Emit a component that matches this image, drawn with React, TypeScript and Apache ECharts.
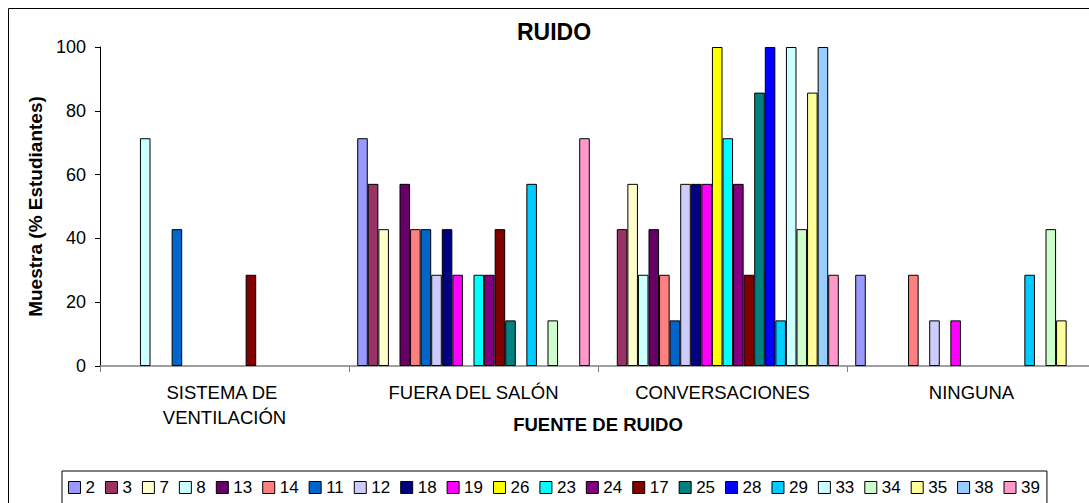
import React, { useEffect, useRef } from 'react';
import * as echarts from 'echarts';

const FONT = '"Liberation Sans", Arial, sans-serif';

const categories = ['SISTEMA DE VENTILACIÓN', 'FUERA DEL SALÓN', 'CONVERSACIONES', 'NINGUNA'];

const seriesNames = ['2', '3', '7', '8', '13', '14', '11', '12', '18', '19', '26', '23', '24', '17', '25', '28', '29', '33', '34', '35', '38', '39'];

const seriesColors = [
  '#9999FF', '#993366', '#FFFFCC', '#CCFFFF', '#660066', '#FF8080', '#0066CC', '#CCCCFF',
  '#000080', '#FF00FF', '#FFFF00', '#00FFFF', '#800080', '#800000', '#008080', '#0000FF',
  '#00CCFF', '#CCFFFF', '#CCFFCC', '#FFFF99', '#99CCFF', '#FF99CC',
];

// values per category, in the order of seriesNames (% of students)
const ventilacion = [0, 0, 0, 71.4, 0, 0, 42.9, 0, 0, 0, 0, 0, 0, 28.6, 0, 0, 0, 0, 0, 0, 0, 0];
const fueraSalon = [71.4, 57.1, 42.9, 0, 57.1, 42.9, 42.9, 28.6, 42.9, 28.6, 0, 28.6, 28.6, 42.9, 14.3, 0, 57.1, 0, 14.3, 0, 0, 71.4];
const conversaciones = [0, 42.9, 57.1, 28.6, 42.9, 28.6, 14.3, 57.1, 57.1, 57.1, 100, 71.4, 57.1, 28.6, 85.7, 100, 14.3, 100, 42.9, 85.7, 100, 28.6];
const ninguna = [28.6, 0, 0, 0, 0, 28.6, 0, 14.3, 0, 14.3, 0, 0, 0, 0, 0, 0, 28.6, 0, 42.9, 14.3, 0, 0];

const yMin = 0;
const yMax = 100;
const yStep = 20;

export default function App() {
  const ref = useRef<HTMLDivElement>(null);

  useEffect(() => {
    if (!ref.current) return;
    const chart = echarts.init(ref.current, null, { renderer: 'svg' });
    const byCategory = [ventilacion, fueraSalon, conversaciones, ninguna];
    const series = seriesNames.map((name, i) => ({
      name,
      type: 'bar',
      data: byCategory.map((arr) => (arr[i] === 0 ? '-' : arr[i])),
      itemStyle: { color: seriesColors[i], borderColor: '#000', borderWidth: 1 },
      barGap: '0%',
      barCategoryGap: '6.6%',
    }));

    chart.setOption({
      animation: false,
      backgroundColor: '#fff',
      textStyle: { fontFamily: FONT },
      title: {
        text: 'RUIDO',
        left: 'center',
        top: 12,
        padding: 0,
        textStyle: { fontFamily: FONT, fontSize: 23, fontWeight: 'bold', color: '#000' },
      },
      graphic: [
        {
          type: 'rect',
          shape: { x: 0.5, y: 0.5, width: 1090, height: 518 },
          style: { fill: 'none', stroke: '#000', lineWidth: 1 },
          silent: true,
          z: -1,
        },
      ],
      grid: { left: 92, top: 39, width: 996, height: 319, containLabel: false },
      legend: {
        left: 54,
        top: 463,
        orient: 'horizontal',
        icon: 'rect',
        itemWidth: 12,
        itemHeight: 12,
        itemGap: 10,
        padding: [8, 7, 8, 6],
        borderColor: '#000',
        borderWidth: 1,
        itemStyle: { borderColor: '#000', borderWidth: 1 },
        textStyle: { fontFamily: FONT, fontSize: 17, color: '#000' },
        data: seriesNames,
      },
      xAxis: {
        type: 'category',
        data: categories,
        name: 'FUENTE DE RUIDO',
        nameLocation: 'middle',
        nameGap: 49,
        nameMoveOverlap: false,
        nameTextStyle: { fontFamily: FONT, fontSize: 18.5, fontWeight: 'bold', color: '#000' },
        axisLine: { lineStyle: { color: '#808080', width: 1.5 } },
        axisTick: { show: true, length: 6, lineStyle: { color: '#808080' } },
        axisLabel: {
          fontFamily: FONT,
          fontSize: 18.5,
          color: '#000',
          margin: 14,
          lineHeight: 25,
          width: 220,
          overflow: 'break',
          interval: 0,
        },
        splitLine: { show: false },
      },
      yAxis: {
        type: 'value',
        min: yMin,
        max: yMax,
        interval: yStep,
        name: 'Muestra (% Estudiantes)',
        nameLocation: 'middle',
        nameGap: 55,
        nameMoveOverlap: false,
        nameTextStyle: { fontFamily: FONT, fontSize: 19, fontWeight: 'bold', color: '#000' },
        axisLine: { show: true, lineStyle: { color: '#000', width: 1 } },
        axisTick: { show: true, length: 5, lineStyle: { color: '#000' } },
        axisLabel: { fontFamily: FONT, fontSize: 18, color: '#000', margin: 14 },
        splitLine: { show: false },
      },
      series,
    });

    return () => {
      chart.dispose();
    };
  }, []);

  return (
    <div
      style={{
        position: 'absolute',
        left: 8,
        top: 8,
        width: 1081,
        height: 495,
        overflow: 'hidden',
        background: '#fff',
      }}
    >
      <div ref={ref} style={{ width: 1092, height: 520 }} />
    </div>
  );
}
